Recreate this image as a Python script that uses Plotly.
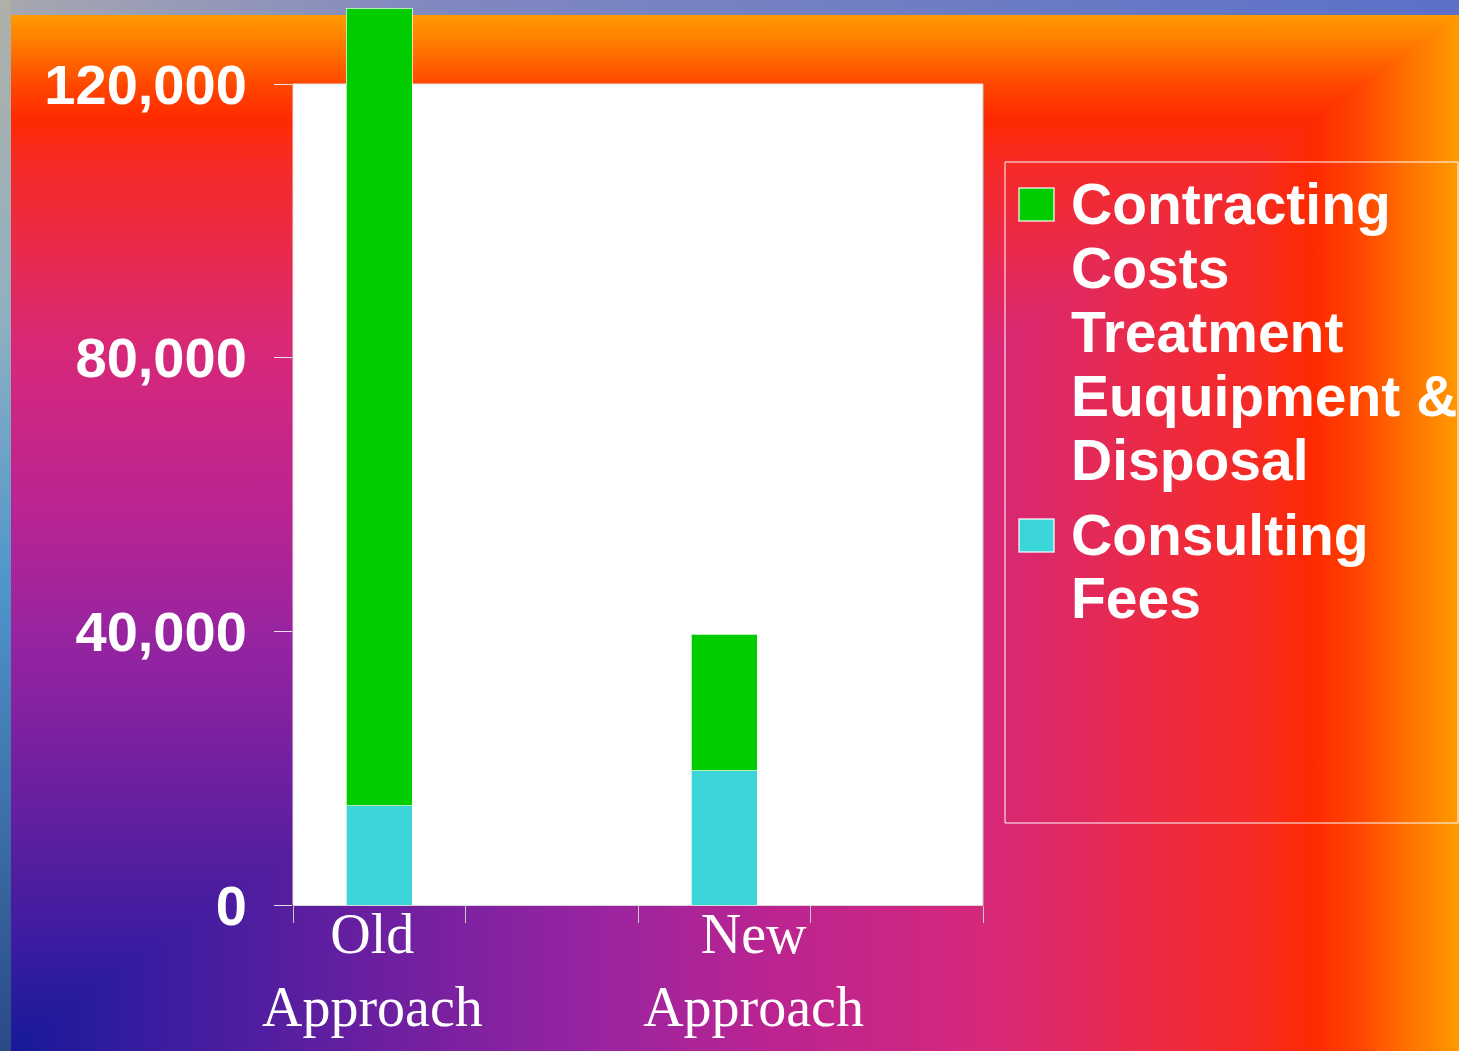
import base64
import plotly.graph_objects as go

# ---------------- data ----------------
categories = ["Old<br>Approach", "New<br>Approach"]
series_names = ["Contracting Costs Treatment Euquipment & Disposal", "Consulting Fees"]
consulting_fees = [14500, 19600]
contracting_costs = [116600, 20000]
y_tick_values = [0, 40000, 80000, 120000]
legend_lines = [
    ["Contracting", "Costs", "Treatment", "Euquipment &", "Disposal"],
    ["Consulting", "Fees"],
]

# ---------------- layout constants ----------------
W, H = 1459, 1051
ML, MR, MT, MB = 293, 476, 2, 146
PW, PH = W - ML - MR, H - MT - MB
AXIS_TOP = 120000                 # top of the drawn axis / white plot area
AXIS_TOP_PX = 821                 # pixel height of 0..AXIS_TOP
Y_RANGE_MAX = AXIS_TOP * PH / AXIS_TOP_PX


def px(x):
    return (x - ML) / PW


def py(y):
    return (H - MB - y) / PH


GREEN = "#00CC00"
CYAN = "#3CD6D8"
LINE = "#E4E4E4"
bar_x = [2 * i for i in range(len(categories))]
label_x = [-0.04, 2.17]
boundaries = [-0.5, 0.5, 1.5, 2.5, 3.5]

# ---------------- background (corner gradient) ----------------
stops = [
    (0.00, "#161A98"), (0.10, "#3A1CA0"), (0.20, "#5A1EA0"), (0.34, "#8622A0"),
    (0.41, "#9A24A0"), (0.53, "#BC2490"), (0.62, "#CC2684"), (0.67, "#D6287A"),
    (0.72, "#DE2866"), (0.79, "#EC2A44"), (0.86, "#F62A24"), (0.90, "#FF2A00"),
    (0.93, "#FF4400"), (0.965, "#FF7200"), (1.00, "#FF9A00"),
]
stop_xml = "".join(f'<stop offset="{o}" stop-color="{c}"/>' for o, c in stops)
svg = f'''<svg xmlns="http://www.w3.org/2000/svg" width="{W}" height="{H}" viewBox="0 0 {W} {H}" preserveAspectRatio="none">
<defs>
<linearGradient id="gv" gradientUnits="userSpaceOnUse" x1="0" y1="{H}" x2="0" y2="15">{stop_xml}</linearGradient>
<linearGradient id="gh" gradientUnits="userSpaceOnUse" x1="11" y1="0" x2="{W}" y2="0">{stop_xml}</linearGradient>
<linearGradient id="sky" x1="0" y1="0" x2="1" y2="0">
<stop offset="0" stop-color="#A8A8B0"/><stop offset="0.3" stop-color="#8088C0"/><stop offset="1" stop-color="#5C70C8"/>
</linearGradient>
<linearGradient id="sea" x1="0" y1="0" x2="0" y2="1">
<stop offset="0" stop-color="#B0B0A8"/><stop offset="0.3" stop-color="#90B0C0"/><stop offset="0.55" stop-color="#5096CC"/><stop offset="1" stop-color="#2A4A86"/>
</linearGradient>
</defs>
<rect x="0" y="0" width="{W}" height="{H}" fill="#6878C0"/>
<rect x="0" y="0" width="{W}" height="15" fill="url(#sky)"/>
<rect x="0" y="0" width="11" height="{H}" fill="url(#sea)"/>
<rect x="11" y="15" width="{W-11}" height="{H-15}" fill="url(#gv)"/>
<polygon points="11,{H} {W},15 {W},{H}" fill="url(#gh)"/>
</svg>'''
bg_uri = "data:image/svg+xml;base64," + base64.b64encode(svg.encode()).decode()

# ---------------- figure ----------------
fig = go.Figure()
fig.add_bar(
    x=bar_x, y=consulting_fees, name=series_names[1], width=0.38,
    marker=dict(color=CYAN, line=dict(color="rgba(255,255,255,0.7)", width=1)),
    showlegend=False,
)
fig.add_bar(
    x=bar_x, y=contracting_costs, name=series_names[0], width=0.38,
    marker=dict(color=GREEN, line=dict(color="rgba(255,255,255,0.7)", width=1)),
    showlegend=False,
)

shapes = [
    # white plot area up to the top tick
    dict(type="rect", xref="paper", yref="y", x0=0, x1=1, y0=0, y1=AXIS_TOP,
         fillcolor="white", line=dict(width=0), layer="below"),
    # axis frame (left, top, right)
    dict(type="line", xref="paper", yref="y", x0=0, x1=0, y0=0, y1=AXIS_TOP,
         line=dict(color=LINE, width=1), layer="above"),
    dict(type="line", xref="paper", yref="y", x0=0, x1=1, y0=AXIS_TOP, y1=AXIS_TOP,
         line=dict(color=LINE, width=1), layer="below"),
    dict(type="line", xref="paper", yref="y", x0=1, x1=1, y0=0, y1=AXIS_TOP,
         line=dict(color="#C8C8C8", width=1), layer="below"),
    # legend box
    dict(type="rect", xref="paper", yref="paper", x0=px(1005), x1=px(1458),
         y0=py(823), y1=py(162), line=dict(color="white", width=1), layer="above"),
]
annotations = []
legend_colors = [GREEN, CYAN]
square_tops = [188, 519]
text_baselines = [[224, 288, 352, 416, 480], [555, 618]]
for color, top, lines, bases in zip(legend_colors, square_tops, legend_lines, text_baselines):
    shapes.append(dict(type="rect", xref="paper", yref="paper",
                       x0=px(1019), x1=px(1054), y0=py(top + 33), y1=py(top),
                       fillcolor=color, line=dict(color="rgba(255,255,255,0.8)", width=1.5),
                       layer="above"))
    for txt, b in zip(lines, bases):
        annotations.append(dict(
            text=txt, xref="paper", yref="paper", x=px(1069), y=py(b - 20),
            xanchor="left", yanchor="middle", showarrow=False,
            font=dict(family="Liberation Sans", size=57, color="white", weight="bold"),
        ))

xaxis = dict(
    range=[-0.5, 3.5], tickmode="array", tickvals=label_x, ticktext=categories,
    ticks="outside", ticklen=0, tickcolor="rgba(0,0,0,0)",
    minor=dict(tickmode="array", tickvals=boundaries, ticks="outside",
               ticklen=17, tickcolor="#C8C8C8", tickwidth=1),
    tickfont=dict(family="Liberation Serif", size=56, color="white"),
    showline=True, linecolor="#D8D8D8", linewidth=1, mirror=False,
    showgrid=False, zeroline=False, automargin=False,
)
yaxis = dict(
    range=[0, Y_RANGE_MAX], tickmode="array", tickvals=y_tick_values, tickformat=",",
    ticks="outside", ticklen=18, tickcolor=LINE,
    tickfont=dict(family="Liberation Sans", size=56, color="white", weight="bold"),
    ticklabelstandoff=16,
    showline=False, showgrid=False, zeroline=False, automargin=False,
)

fig.update_layout(
    width=W, height=H,
    margin=dict(l=ML, r=MR, t=MT, b=MB, pad=0),
    barmode="stack",
    paper_bgcolor="#6878C0",
    plot_bgcolor="rgba(0,0,0,0)",
    showlegend=False,
    images=[dict(source=bg_uri, xref="paper", yref="paper", x=px(0), y=py(0),
                 sizex=W / PW, sizey=H / PH, xanchor="left", yanchor="top",
                 sizing="stretch", layer="below")],
    shapes=shapes,
    annotations=annotations,
    xaxis=xaxis,
    yaxis=yaxis,
)
try:
    fig.update_xaxes(ticklabelstandoff=-20)
except ValueError:
    pass

fig.write_html(
    "out.html",
    config={"displayModeBar": False},
    post_script="document.body.style.margin='0';document.body.style.overflow='hidden';",
)
